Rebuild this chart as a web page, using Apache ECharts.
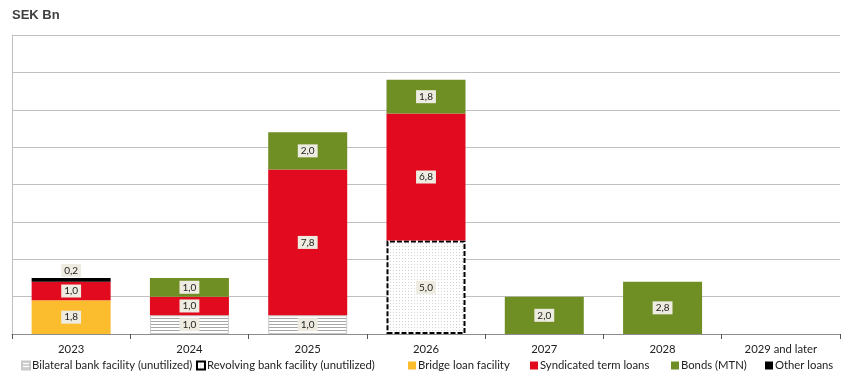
<!DOCTYPE html>
<html><head><meta charset="utf-8">
<script src="https://cdn.jsdelivr.net/npm/echarts@6/dist/echarts.min.js"></script>
<style>html,body{margin:0;padding:0;background:#fff}#c{width:850px;height:379px}</style>
</head><body><div id="c"></div>
<script>
const categories = ['2023','2024','2025','2026','2027','2028','2029 and later'];
const bilateral  = [null, 1.0, 1.0, null, null, null, null];
const revolving  = [null, null, null, 5.0, null, null, null];
const bridge     = [1.8, null, null, null, null, null, null];
const syndicated = [1.0, 1.0, 7.8, 6.8, null, null, null];
const bonds      = [null, 1.0, 2.0, 1.8, 2.0, 2.8, null];
const other      = [0.2, null, null, null, null, null, null];
const seriesNames = ['Bilateral bank facility (unutilized)','Revolving bank facility (unutilized)','Bridge loan facility','Syndicated term loans','Bonds (MTN)','Other loans'];

function hatchCanvas(){
  const c=document.createElement('canvas');c.width=4;c.height=3;
  const g=c.getContext('2d');g.fillStyle='#fff';g.fillRect(0,0,4,3);
  g.fillStyle='#a6a6a6';g.fillRect(0,0,4,1);return c;
}
function dotCanvas(){
  const c=document.createElement('canvas');c.width=3;c.height=3;
  const g=c.getContext('2d');g.fillStyle='#fff';g.fillRect(0,0,3,3);
  g.fillStyle='#d2d2d2';g.fillRect(0,0,1,1);return c;
}
const FONT = 'Lato, "Open Sans", sans-serif';
const fmt = p => (p.value==null ? '' : Number(p.value).toFixed(1).replace('.',','));
const lbl = {show:true, position:'inside', formatter:fmt, backgroundColor:'#eeece1', padding:[2,3,1,3], color:'#222', fontSize:10, fontFamily:FONT};

const styles = [
  {color:{image:hatchCanvas(),repeat:'repeat'}, borderColor:'#c8c8c8', borderWidth:1},
  {color:{image:dotCanvas(),repeat:'repeat'}, borderColor:'#000', borderWidth:2, borderType:[5,2]},
  {color:'#fbbc2e'},
  {color:'#e20a1e'},
  {color:'#6f8f24'},
  {color:'#000000'}
];
const datas=[bilateral,revolving,bridge,syndicated,bonds,other];
const series = datas.map((d,i)=>({
  name:seriesNames[i], type:'bar', stack:'s', data:d, barWidth:79,
  itemStyle:styles[i],
  label: i===5 ? Object.assign({}, lbl, {position:'top', distance:1}) : lbl,
  emphasis:{disabled:true}
}));
const legendLeft = [21, 196, 408, 530, 671, 765];
const legends = seriesNames.map((n,i)=>({
  data:[n], left:legendLeft[i], bottom:8, padding:0, itemWidth:8, itemHeight:8, icon:'rect',
  textStyle:{fontSize:11.3, color:'#222', fontFamily:FONT, padding:[0,0,0,-3]}
}));

const chart = echarts.init(document.getElementById('c'));
chart.setOption({
  animation:false,
  title:{text:'SEK Bn', left:7, top:4, textStyle:{fontSize:13, fontWeight:'bold', color:'#404040', fontFamily:'Liberation Sans, Arial, sans-serif'}},
  grid:{left:12, right:10, top:35, bottom:45},
  legend:legends,
  xAxis:{type:'category', data:categories,
    axisLine:{lineStyle:{color:'#8c8c8c'}},
    axisTick:{show:true, length:5, inside:false, lineStyle:{color:'#555'}},
    axisLabel:{fontSize:11.3, color:'#222', margin:10, fontFamily:FONT}},
  yAxis:{type:'value', min:0, max:16, interval:2,
    axisLine:{show:true, lineStyle:{color:'#bfbfbf'}},
    axisLabel:{show:false}, axisTick:{show:false},
    splitLine:{lineStyle:{color:'#c0c0c0'}}},
  series:series
});
</script></body></html>
